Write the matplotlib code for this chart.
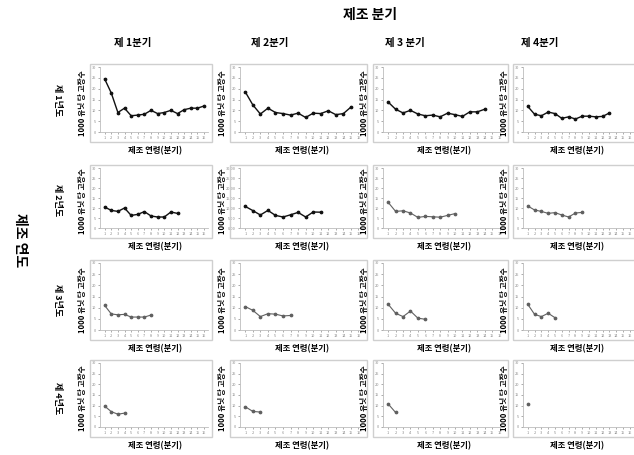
import matplotlib
matplotlib.use('Agg')
import matplotlib.pyplot as plt
from matplotlib.patches import Rectangle
from matplotlib.ticker import FormatStrFormatter

FONT = ['Noto Sans CJK KR', 'DejaVu Sans']
plt.rcParams['font.family'] = FONT

W, H = 634, 455

TITLE = '제조 분기'
ROW_TITLE = '제조 연도'
COL_LABELS = ['제 1분기', '제 2분기', '제 3 분기', '제 4분기']
ROW_LABELS = ['제 1년도', '제 2년도', '제 3년도', '제 4년도']
Y_LABEL = '1000 유닛 당 고장수'
X_LABEL = '제조 연령(분기)'
X_TICKS = list(range(1, 17))
Y_TICKS = [0, 5, 10, 15, 20, 25, 30]

# failures per 1000 units, by year (row) and quarter (column)
y1q1 = [24.5, 18, 9, 11, 7.5, 7.8, 8.2, 10, 8.5, 9, 10, 8.5, 10.3, 11, 11, 12]
y1q2 = [18.5, 12.5, 8.3, 11, 9, 8.5, 7.8, 8.7, 6.7, 8.7, 8.5, 9.8, 8, 8.5, 11.5]
y1q3 = [13.8, 10.5, 8.8, 10, 8.3, 7.5, 7.8, 7, 8.7, 8, 7.2, 9.3, 9.3, 10.5]
y1q4 = [11.8, 8.2, 7.5, 9.2, 8.5, 6.3, 7, 6, 7.3, 7.3, 7, 7.2, 8.8]
y2q1 = [10.5, 8.8, 8.3, 10, 6.3, 6.8, 8.2, 6, 5.5, 5.5, 8, 7.3]
y2q2 = [10.8, 8.7, 6.5, 8.8, 6.3, 5.5, 6.6, 7.8, 5.5, 8, 7.9]
y2q3 = [12.8, 8.3, 8.6, 7.5, 5.3, 5.8, 5.6, 5.4, 6.3, 7.2]
y2q4 = [11, 9, 8.3, 7.3, 7.7, 6.5, 5.5, 7.5, 7.8]
y3q1 = [11, 7.2, 6.8, 7, 5.8, 5.8, 5.8, 6.7]
y3q2 = [10.5, 8.8, 6, 7.3, 7.1, 6.3, 6.5]
y3q3 = [11.5, 7.5, 6, 8.5, 5.3, 4.8]
y3q4 = [11.5, 7, 6, 7.5, 5.5]
y4q1 = [9.8, 7.2, 6, 6.5]
y4q2 = [9.5, 7.3, 7]
y4q3 = [10.8, 6.8]
y4q4 = [11]

SERIES = [[y1q1, y1q2, y1q3, y1q4],
          [y2q1, y2q2, y2q3, y2q4],
          [y3q1, y3q2, y3q3, y3q4],
          [y4q1, y4q2, y4q3, y4q4]]

# chart-area frames in pixels
COL_X = [(90, 212), (230, 367), (373, 508), (513, 642)]
ROW_Y = [(64, 142), (165, 238), (260, 340), (360, 437)]
COL_TITLE_X = [133, 270, 405, 540]
ROW_LABEL_Y = [100, 200, 300, 398]


def fx(x):
    return x / W


def fy(y):
    return 1 - y / H


def main():
    fig = plt.figure(figsize=(W / 100, H / 100), dpi=100)
    fig.patch.set_facecolor('white')

    fig.text(fx(370), fy(15), TITLE, ha='center', va='center', fontsize=10, weight='bold')
    fig.text(fx(20), fy(240), ROW_TITLE, ha='center', va='center', fontsize=10,
             weight='bold', rotation=270)

    for c, label in enumerate(COL_LABELS):
        fig.text(fx(COL_TITLE_X[c]), fy(43), label, ha='center', va='center',
                 fontsize=7.5, weight='bold')
    for r, label in enumerate(ROW_LABELS):
        fig.text(fx(57), fy(ROW_LABEL_Y[r]), label, ha='center', va='center',
                 fontsize=6.5, weight='bold', rotation=270)

    for r in range(4):
        y0, y1 = ROW_Y[r]
        for c in range(4):
            x0, x1 = COL_X[c]
            fig.patches.append(Rectangle((fx(x0), fy(y1)), fx(x1 - x0), (y1 - y0) / H,
                                         transform=fig.transFigure, fill=False,
                                         edgecolor='#cfcfcf', linewidth=1.0))
            right = min(x1 - 4, 634)
            ax = fig.add_axes([fx(x0 + 10), fy(y1 - 10), fx(right - x0 - 10),
                               (y1 - 10 - y0 - 3) / H])
            vals = SERIES[r][c]
            xs = X_TICKS[:len(vals)]
            dark = r == 0 or (r == 1 and c < 2)
            color = '#111111' if dark else '#606060'
            ax.plot(xs, vals, color=color, linewidth=1.0 if dark else 0.8,
                    marker='o', markersize=1.7, markerfacecolor=color,
                    markeredgecolor=color)
            ax.set_xlim(0.3, 16.6)
            ax.set_ylim(0, 30)
            ax.set_xticks(X_TICKS)
            ax.set_yticks(Y_TICKS)
            if r == 1 and c == 1:
                ax.yaxis.set_major_formatter(FormatStrFormatter('%.2f'))
            ax.tick_params(labelsize=2.8, colors='#8a8a8a', length=1.5, width=0.5, pad=1.5)
            ax.spines[['top', 'right']].set_visible(False)
            ax.spines[['left', 'bottom']].set_color('#bdbdbd')
            ax.spines[['left', 'bottom']].set_linewidth(0.6)

            fig.text(fx(x0 - 8), fy((y0 + y1) / 2), Y_LABEL, ha='center', va='center',
                     fontsize=5.5, weight='bold', rotation=90)
            fig.text(fx((x0 + min(x1, 634)) / 2 + 4), fy(y1 + 9), X_LABEL, ha='center',
                     va='center', fontsize=6, weight='bold')

    fig.savefig('out.png', dpi=100)


if __name__ == '__main__':
    main()
